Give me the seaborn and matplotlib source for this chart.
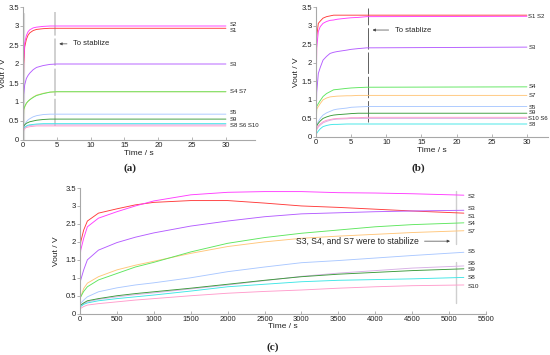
import numpy as np
import pandas as pd
import matplotlib
matplotlib.use('Agg')
import matplotlib.pyplot as plt
import matplotlib.ticker as mticker
import seaborn as sns

# sensors (drawing order) and colours
sensors = ['S7', 'S4', 'S1', 'S2', 'S3', 'S5', 'S6', 'S9', 'S8', 'S10']
colors = {'S1': '#ff3b3b', 'S2': '#ff3cff', 'S3': '#b45cff', 'S4': '#5ee65e',
          'S7': '#ffc67a', 'S5': '#aac8ff', 'S9': '#3a9a3a', 'S6': '#d8b0e6',
          'S8': '#3ee6e6', 'S10': '#ff9ccc'}

# panel (a): short test, seconds
t_a = [0, 0.1, 0.25, 0.5, 0.75, 1, 1.5, 2, 3, 4, 5, 30]
vals_a = {
    'S1': [0, 2.0, 2.45, 2.65, 2.76, 2.82, 2.88, 2.91, 2.93, 2.94, 2.94, 2.94],
    'S2': [0, 2.1, 2.55, 2.75, 2.85, 2.9, 2.95, 2.97, 2.99, 3.0, 3.0, 3.0],
    'S3': [0, 1.2, 1.45, 1.62, 1.7, 1.76, 1.85, 1.91, 1.96, 1.99, 2.0, 2.0],
    'S4': [0, 0.8, 0.88, 0.97, 1.02, 1.06, 1.12, 1.17, 1.22, 1.26, 1.27, 1.27],
    'S7': [0, 0.78, 0.87, 0.96, 1.02, 1.06, 1.13, 1.18, 1.23, 1.26, 1.27, 1.27],
    'S5': [0, 0.3, 0.4, 0.48, 0.53, 0.56, 0.61, 0.64, 0.67, 0.68, 0.68, 0.68],
    'S9': [0, 0.36, 0.4, 0.44, 0.46, 0.48, 0.5, 0.52, 0.54, 0.55, 0.55, 0.55],
    'S6': [0, 0.3, 0.34, 0.36, 0.37, 0.38, 0.39, 0.4, 0.4, 0.4, 0.4, 0.4],
    'S8': [0, 0.28, 0.33, 0.37, 0.39, 0.4, 0.41, 0.42, 0.43, 0.43, 0.43, 0.43],
    'S10': [0, 0.25, 0.3, 0.33, 0.34, 0.35, 0.36, 0.37, 0.37, 0.37, 0.37, 0.37],
}
labels_a = [('S2', 3.03), ('S1', 2.88), ('S3', 2.0), ('S4 S7', 1.27),
            ('S5', 0.73), ('S9', 0.55), ('S8 S6 S10', 0.38)]

# panel (b)
t_b = [0, 0.1, 0.33, 0.6, 1, 1.5, 2, 2.5, 3, 4.4, 5, 6, 7.2, 30]
vals_b = {
    'S1': [0, 2.7, 3.06, 3.12, 3.2, 3.24, 3.26, 3.28, 3.28, 3.28, 3.28, 3.28, 3.28, 3.28],
    'S2': [0, 2.4, 2.84, 2.97, 3.06, 3.11, 3.14, 3.15, 3.17, 3.2, 3.21, 3.22, 3.24, 3.25],
    'S3': [0, 1.2, 1.71, 1.87, 2.07, 2.17, 2.25, 2.28, 2.3, 2.34, 2.36, 2.38, 2.4, 2.42],
    'S4': [0, 0.82, 0.9, 0.98, 1.09, 1.17, 1.22, 1.27, 1.28, 1.31, 1.32, 1.33, 1.34, 1.35],
    'S7': [0, 0.75, 0.82, 0.9, 1.0, 1.05, 1.08, 1.09, 1.1, 1.11, 1.11, 1.12, 1.12, 1.12],
    'S5': [0, 0.3, 0.42, 0.5, 0.59, 0.65, 0.69, 0.73, 0.75, 0.78, 0.8, 0.81, 0.82, 0.82],
    'S9': [0, 0.3, 0.37, 0.43, 0.5, 0.54, 0.57, 0.59, 0.6, 0.62, 0.63, 0.64, 0.64, 0.64],
    'S10': [0, 0.22, 0.3, 0.35, 0.41, 0.45, 0.47, 0.49, 0.5, 0.51, 0.52, 0.52, 0.53, 0.53],
    'S6': [0, 0.2, 0.27, 0.32, 0.38, 0.42, 0.45, 0.47, 0.48, 0.49, 0.5, 0.5, 0.5, 0.5],
    'S8': [0, 0.1, 0.16, 0.22, 0.28, 0.31, 0.33, 0.34, 0.34, 0.35, 0.35, 0.35, 0.35, 0.35],
}
labels_b = [('S1 S2', 3.25), ('S3', 2.42), ('S4', 1.36), ('S7', 1.12),
            ('S5', 0.8), ('S9', 0.65), ('S10 S6', 0.49), ('S8', 0.33)]

# panel (c): long test
t_c = [0, 10, 50, 100, 250, 500, 750, 1000, 1500, 2000, 2500, 3000, 3500, 4000, 4500, 5200]
vals_c = {
    'S1': [1.7, 2.0, 2.33, 2.58, 2.8, 2.92, 3.03, 3.1, 3.15, 3.15, 3.08, 3.0, 2.96, 2.91, 2.86, 2.80],
    'S2': [1.5, 1.77, 2.1, 2.42, 2.66, 2.84, 3.0, 3.14, 3.31, 3.38, 3.40, 3.40, 3.37, 3.36, 3.34, 3.30],
    'S3': [0.85, 0.94, 1.22, 1.5, 1.77, 1.98, 2.13, 2.25, 2.44, 2.58, 2.7, 2.78, 2.81, 2.84, 2.86, 2.88],
    'S4': [0.42, 0.47, 0.62, 0.75, 0.94, 1.12, 1.3, 1.43, 1.72, 1.96, 2.12, 2.24, 2.33, 2.42, 2.48, 2.53],
    'S7': [0.42, 0.47, 0.7, 0.85, 1.03, 1.22, 1.35, 1.46, 1.68, 1.87, 2.0, 2.1, 2.16, 2.21, 2.26, 2.31],
    'S5': [0.28, 0.29, 0.38, 0.47, 0.61, 0.72, 0.8, 0.86, 1.0, 1.17, 1.3, 1.42, 1.48, 1.55, 1.62, 1.71],
    'S9': [0.22, 0.24, 0.3, 0.36, 0.42, 0.5, 0.56, 0.61, 0.71, 0.82, 0.93, 1.03, 1.1, 1.15, 1.2, 1.25],
    'S6': [0.2, 0.22, 0.28, 0.33, 0.4, 0.47, 0.53, 0.58, 0.69, 0.8, 0.92, 1.04, 1.13, 1.2, 1.27, 1.33],
    'S8': [0.18, 0.2, 0.26, 0.3, 0.36, 0.42, 0.47, 0.52, 0.63, 0.75, 0.82, 0.89, 0.93, 0.95, 0.97, 1.01],
    'S10': [0.12, 0.15, 0.2, 0.24, 0.28, 0.33, 0.38, 0.42, 0.5, 0.57, 0.62, 0.66, 0.71, 0.75, 0.78, 0.80],
}
labels_c = [('S2', 3.26), ('S3', 2.94), ('S1', 2.72), ('S4', 2.52), ('S7', 2.28),
            ('S5', 1.72), ('S6', 1.39), ('S9', 1.22), ('S8', 1.0), ('S10', 0.77)]

sns.set_style('ticks')
plt.rcParams['font.family'] = ['Liberation Sans', 'DejaVu Sans']

W, H = 550, 355
fig = plt.figure(figsize=(W / 100, H / 100), dpi=100)


def px_axes(left, right, top, bottom):
    return fig.add_axes([left / W, 1 - bottom / H, (right - left) / W, (bottom - top) / H])


def style(ax, xmax, xticks):
    ax.set_xlim(0, xmax)
    ax.set_ylim(0, 3.5)
    ax.set_xticks(xticks)
    ax.set_yticks(np.arange(0, 3.6, 0.5))
    ax.yaxis.set_major_formatter(mticker.FuncFormatter(lambda v, p: '%g' % v))
    for s in ['top', 'right']:
        ax.spines[s].set_visible(False)
    for s in ['left', 'bottom']:
        ax.spines[s].set_color('#a8a8a8')
        ax.spines[s].set_linewidth(0.8)
    ax.tick_params(axis='x', direction='in', length=2, width=0.6, color='#a8a8a8',
                   labelsize=5.5, pad=1.5, labelcolor='#222222')
    ax.tick_params(axis='y', direction='out', length=2, width=0.6, color='#a8a8a8',
                   labelsize=5.5, pad=1, labelcolor='#222222')
    ax.set_xlabel('Time / s', fontsize=6, labelpad=0.5, color='#222222')
    ax.set_ylabel('Vout / V', fontsize=6, labelpad=1, color='#222222')


def draw(ax, t, vals):
    for name in sensors:
        df = pd.DataFrame({'t': t, 'v': vals[name]})
        sns.lineplot(data=df, x='t', y='v', color=colors[name], lw=0.65, ax=ax,
                     legend=False, estimator=None, sort=False)


# (a)
ax_a = px_axes(23, 255, 7, 140)
ax_a.axvline(0.15, ymin=0, ymax=0.95, color='#dcdcdc', lw=1.6, zorder=0)
draw(ax_a, t_a, vals_a)
style(ax_a, 34.3, range(0, 31, 5))
ax_a.plot([4.73, 4.73], [0.37, 3.36], color='#d0d0d0', lw=1.4, ls=(0, (14, 1.5)), zorder=0)
for txt, y in labels_a:
    ax_a.text(30.6, y, txt, fontsize=4.3, va='center', ha='left', color='#222222')
ax_a.annotate('To stablize', xy=(4.95, 2.53), xytext=(7.4, 2.53), fontsize=5.5, va='center',
              arrowprops=dict(arrowstyle='-|>', color='#444444', lw=0.5, mutation_scale=4))

# (b)
ax_b = px_axes(316, 548, 7, 137)
draw(ax_b, t_b, vals_b)
style(ax_b, 33.0, range(0, 31, 5))
ax_b.plot([7.45, 7.45], [0.41, 3.46], color='#606060', lw=0.7, ls=(0, (22, 3)), zorder=0)
for txt, y in labels_b:
    ax_b.text(30.2, y, txt, fontsize=4.3, va='center', ha='left', color='#222222')
ax_b.annotate('To stablize', xy=(7.65, 2.88), xytext=(11.2, 2.88), fontsize=5.5, va='center',
              arrowprops=dict(arrowstyle='-|>', color='#444444', lw=0.5, mutation_scale=4))

# (c)
ax_c = px_axes(80, 486, 188, 313.7)
draw(ax_c, t_c, vals_c)
style(ax_c, 5500, range(0, 5501, 500))
ax_c.set_ylabel('Vout / V', fontsize=6, labelpad=4, color='#222222')
ax_c.plot([5090, 5090], [0.29, 1.45], color='#cfcfcf', lw=1.0, zorder=0)
ax_c.plot([5090, 5090], [1.95, 3.42], color='#cfcfcf', lw=1.0, zorder=0)
for txt, y in labels_c:
    ax_c.text(5250, y, txt, fontsize=4.6, va='center', ha='left', color='#222222')
ax_c.annotate('S3, S4, and S7 were to stabilize', xy=(5050, 2.02), xytext=(2920, 2.02),
              fontsize=6.2, va='center',
              arrowprops=dict(arrowstyle='-|>', color='#444444', lw=0.5, mutation_scale=4))

# panel captions
for txt, x, y in [('(a)', 130, 168), ('(b)', 418, 168), ('(c)', 273, 347)]:
    fig.text(x / W, 1 - y / H, txt, fontsize=8, fontweight='bold', family='Liberation Serif',
             ha='center', va='center')

fig.savefig('out.png', dpi=100)
